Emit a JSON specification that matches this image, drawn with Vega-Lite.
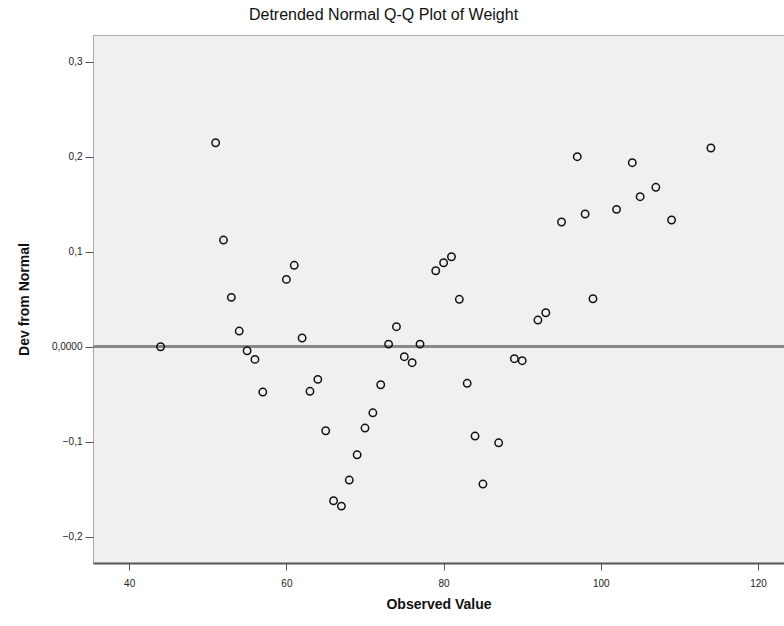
{
  "$schema": "https://vega.github.io/schema/vega-lite/v6.json",
  "width": 691,
  "height": 528,
  "autosize": {"type": "none"},
  "padding": {"left": 93, "top": 35, "right": 0, "bottom": 63},
  "background": "white",
  "config": {
    "font": "Liberation Sans",
    "view": {"fill": "#f0f0f0", "stroke": "#aaaaaa", "strokeWidth": 1}
  },
  "title": {
    "text": "Detrended Normal Q-Q Plot of Weight",
    "fontSize": 16,
    "fontWeight": "normal",
    "color": "#111111",
    "anchor": "middle",
    "frame": "group",
    "dx": -55,
    "offset": 12
  },
  "data": {
    "values": [
      {"weight": 44, "dev": 0.0},
      {"weight": 51, "dev": 0.2147},
      {"weight": 52, "dev": 0.1123},
      {"weight": 53, "dev": 0.052},
      {"weight": 54, "dev": 0.0165},
      {"weight": 55, "dev": -0.0042},
      {"weight": 56, "dev": -0.0133},
      {"weight": 57, "dev": -0.0477},
      {"weight": 60, "dev": 0.0709},
      {"weight": 61, "dev": 0.0857},
      {"weight": 62, "dev": 0.0092},
      {"weight": 63, "dev": -0.0469},
      {"weight": 64, "dev": -0.0343},
      {"weight": 65, "dev": -0.0884},
      {"weight": 66, "dev": -0.1621},
      {"weight": 67, "dev": -0.1677},
      {"weight": 68, "dev": -0.1403},
      {"weight": 69, "dev": -0.1137},
      {"weight": 70, "dev": -0.0856},
      {"weight": 71, "dev": -0.0695},
      {"weight": 72, "dev": -0.04},
      {"weight": 73, "dev": 0.0028},
      {"weight": 74, "dev": 0.0211},
      {"weight": 75, "dev": -0.0105},
      {"weight": 76, "dev": -0.0168},
      {"weight": 77, "dev": 0.0028},
      {"weight": 79, "dev": 0.08},
      {"weight": 80, "dev": 0.0884},
      {"weight": 81, "dev": 0.0947},
      {"weight": 82, "dev": 0.0499},
      {"weight": 83, "dev": -0.0385},
      {"weight": 84, "dev": -0.094},
      {"weight": 85, "dev": -0.1445},
      {"weight": 87, "dev": -0.1011},
      {"weight": 89, "dev": -0.0126},
      {"weight": 90, "dev": -0.0147},
      {"weight": 92, "dev": 0.0281},
      {"weight": 93, "dev": 0.0358},
      {"weight": 95, "dev": 0.1313},
      {"weight": 97, "dev": 0.2},
      {"weight": 98, "dev": 0.1397},
      {"weight": 99, "dev": 0.0505},
      {"weight": 102, "dev": 0.1446},
      {"weight": 104, "dev": 0.1937},
      {"weight": 105, "dev": 0.1579},
      {"weight": 107, "dev": 0.1678},
      {"weight": 109, "dev": 0.1334},
      {"weight": 114, "dev": 0.2092}
    ]
  },
  "encoding": {
    "x": {
      "field": "weight",
      "type": "quantitative",
      "scale": {"domain": [35.4, 123.3], "nice": false, "zero": false},
      "axis": {
        "title": "Observed Value",
        "values": [40, 60, 80, 100, 120],
        "grid": false,
        "domainColor": "#555555",
        "domainWidth": 2,
        "tickColor": "#555555",
        "tickSize": 7,
        "labelFontSize": 10,
        "labelColor": "#222222",
        "labelPadding": 8,
        "titleFontSize": 14,
        "titleFontWeight": "bold",
        "titleColor": "#111111",
        "titlePadding": 9
      }
    },
    "y": {
      "field": "dev",
      "type": "quantitative",
      "scale": {"domain": [-0.2276, 0.3281], "nice": false, "zero": false},
      "axis": {
        "title": "Dev from Normal",
        "values": [-0.2, -0.1, 0, 0.1, 0.2, 0.3],
        "labelExpr": "datum.value == 0 ? '0,0000' : replace(format(datum.value, '.1f'), '.', ',')",
        "grid": false,
        "domain": false,
        "tickColor": "#555555",
        "tickSize": 8,
        "labelFontSize": 10,
        "labelColor": "#222222",
        "labelPadding": 3,
        "titleFontSize": 14,
        "titleFontWeight": "bold",
        "titleColor": "#111111",
        "titlePadding": 20
      }
    }
  },
  "layer": [
    {
      "mark": {"type": "rule", "color": "#888888", "strokeWidth": 2},
      "encoding": {"y": {"datum": 0}, "x": {}}
    },
    {
      "mark": {
        "type": "point",
        "shape": "circle",
        "filled": false,
        "stroke": "#111111",
        "strokeWidth": 1.5,
        "size": 55,
        "opacity": 1
      }
    }
  ]
}
